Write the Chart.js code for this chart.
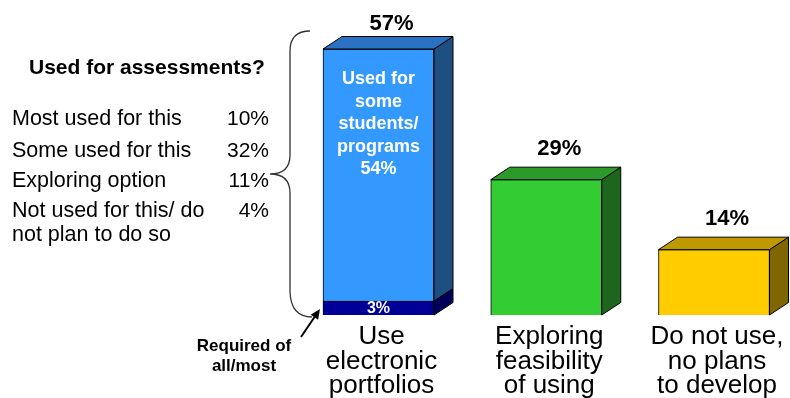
<!DOCTYPE html>
<html>
<head>
<meta charset="utf-8">
<script src="https://cdn.jsdelivr.net/npm/chart.js@4/dist/chart.umd.min.js"></script>
<style>
html,body{margin:0;padding:0;background:#fff;}
#wrap{width:790px;height:398px;position:relative;}
</style>
</head>
<body>
<div id="wrap"><canvas id="c" width="790" height="398"></canvas></div>
<script>
// ---- data ----
const categories = [["Use","electronic","portfolios"],["Exploring","feasibility","of using"],["Do not use,","no plans","to develop"]];
const requiredValues = [3, null, null];      // "Required of all/most"
const otherValues = [54, 29, 14];            // remainder of each bar
const insideLabel = ["Used for","some","students/","programs"];
const assessmentTitle = "Used for assessments?";
const assessmentCategories = [["Most used for this"],["Some used for this"],["Exploring option"],["Not used for this/ do","not plan to do so"]];
const assessmentValues = [10, 32, 11, 4];
const requiredLabel = ["Required of","all/most"];

const FONT = '"Liberation Sans", Arial, Helvetica, sans-serif';
const frontColors = ['#3399FF','#33CC33','#FFCC00'];
const topColors = ['#2C72C4','#2A9A2A','#BF9900'];
const sideColors = ['#1F4E80','#1E661E','#806600'];
const navyFront = '#000099', navySide = '#000058';
const DX = 19, DY = 12.5;

function txt(ctx, s, x, y, font, color, align){
  ctx.save();
  ctx.font = font; ctx.fillStyle = color; ctx.textAlign = align || 'left'; ctx.textBaseline = 'alphabetic';
  ctx.fillText(s, x, y);
  ctx.restore();
}

const box3d = {
  id: 'box3d',
  afterDatasetsDraw(chart){
    const ctx = chart.ctx;
    ctx.save();
    ctx.lineWidth = 1; ctx.strokeStyle = '#000'; ctx.lineJoin = 'miter';
    const metas = [chart.getDatasetMeta(0), chart.getDatasetMeta(1)];
    const n = categories.length;
    for (let i = 0; i < n; i++){
      metas.forEach((meta, di) => {
        const el = meta.data[i];
        if (!el) return;
        const v = chart.data.datasets[di].data[i];
        if (v === null || v === undefined || v === 0) return;
        const p = el.getProps(['x','y','base','width'], true);
        const xl = p.x - p.width/2, xr = p.x + p.width/2, yt = p.y, yb = p.base;
        ctx.beginPath();
        ctx.moveTo(xr, yt); ctx.lineTo(xr+DX, yt-DY); ctx.lineTo(xr+DX, yb-DY); ctx.lineTo(xr, yb); ctx.closePath();
        ctx.fillStyle = di === 0 ? navySide : sideColors[i];
        ctx.fill(); ctx.stroke();
        if (di === 1){
          ctx.beginPath();
          ctx.moveTo(xl, yt); ctx.lineTo(xl+DX, yt-DY); ctx.lineTo(xr+DX, yt-DY); ctx.lineTo(xr, yt); ctx.closePath();
          ctx.fillStyle = topColors[i];
          ctx.fill(); ctx.stroke();
        }
      });
    }
    ctx.restore();
  },
  afterDraw(chart){
    const ctx = chart.ctx;
    const xs = chart.scales.x, ys = chart.scales.y;
    for (let i = 0; i < categories.length; i++){
      const cx = xs.getPixelForValue(i);
      const total = (requiredValues[i] || 0) + otherValues[i];
      const topY = ys.getPixelForValue(total);
      txt(ctx, total + '%', cx + 13, Math.max(topY - 25, 30), 'bold 22px ' + FONT, '#000', 'center');
      categories[i].forEach((line, k) => {
        txt(ctx, line, cx + 3, 344 + k*24.5, '26px ' + FONT, '#000', 'center');
      });
    }
    const c0 = xs.getPixelForValue(0);
    insideLabel.forEach((line, k) => txt(ctx, line, c0, 84 + k*22.5, 'bold 18px ' + FONT, '#fff', 'center'));
    txt(ctx, otherValues[0] + '%', c0, 84 + 4*22.5, 'bold 18px ' + FONT, '#fff', 'center');
    const r0 = ys.getPixelForValue(requiredValues[0]);
    txt(ctx, requiredValues[0] + '%', c0, (r0 + ys.getPixelForValue(0))/2 + 4.5, 'bold 16px ' + FONT, '#fff', 'center');

    txt(ctx, assessmentTitle, 29, 74, 'bold 21px ' + FONT, '#000', 'left');
    const rowY = [125, 157, 187, 217];
    assessmentCategories.forEach((lines, k) => {
      lines.forEach((line, j) => txt(ctx, line, 12, rowY[k] + j*24, '21.5px ' + FONT, '#000', 'left'));
      txt(ctx, assessmentValues[k] + '%', 269, rowY[k], '21px ' + FONT, '#000', 'right');
    });

    ctx.save();
    ctx.strokeStyle = '#333'; ctx.lineWidth = 1.3;
    ctx.beginPath();
    ctx.moveTo(310, 31);
    ctx.quadraticCurveTo(290, 31, 290, 51);
    ctx.lineTo(290, 155);
    ctx.quadraticCurveTo(290, 174, 270, 174);
    ctx.quadraticCurveTo(290, 174, 290, 193);
    ctx.lineTo(290, 292);
    ctx.quadraticCurveTo(291, 317, 312, 317);
    ctx.stroke();
    ctx.restore();

    const ax = xs.getPixelForValue(0) - 55.5 - 3, ay = (r0 + ys.getPixelForValue(0))/2 + 1;
    const tx = 301, ty = 337;
    ctx.save();
    ctx.strokeStyle = '#000'; ctx.fillStyle = '#000'; ctx.lineWidth = 2;
    const ang = Math.atan2(ay - ty, ax - tx);
    ctx.beginPath(); ctx.moveTo(tx, ty); ctx.lineTo(ax - 7*Math.cos(ang), ay - 7*Math.sin(ang)); ctx.stroke();
    ctx.beginPath();
    ctx.moveTo(ax, ay);
    ctx.lineTo(ax - 10*Math.cos(ang) + 4.5*Math.sin(ang), ay - 10*Math.sin(ang) - 4.5*Math.cos(ang));
    ctx.lineTo(ax - 10*Math.cos(ang) - 4.5*Math.sin(ang), ay - 10*Math.sin(ang) + 4.5*Math.cos(ang));
    ctx.closePath(); ctx.fill();
    ctx.restore();
    txt(ctx, requiredLabel[0], 244, 351, 'bold 17px ' + FONT, '#000', 'center');
    txt(ctx, requiredLabel[1], 244, 371, 'bold 17px ' + FONT, '#000', 'center');
  }
};

new Chart(document.getElementById('c'), {
  type: 'bar',
  data: {
    labels: categories.map(c => c.join(' ')),
    datasets: [
      { label: 'Required of all/most', data: requiredValues, backgroundColor: navyFront, borderColor: '#000', borderWidth: 1, barThickness: 111, clip: false },
      { label: 'Other', data: otherValues, backgroundColor: frontColors, borderColor: '#000', borderWidth: 1, barThickness: 111, clip: false }
    ]
  },
  options: {
    responsive: false,
    devicePixelRatio: 1,
    animation: false,
    layout: { padding: { left: 378.5, right: 76, top: 35, bottom: 83 } },
    plugins: { legend: { display: false }, tooltip: { enabled: false } },
    scales: {
      x: { display: false, stacked: true, offset: false },
      y: { display: false, stacked: true, min: 0, max: 60 }
    }
  },
  plugins: [box3d]
});
</script>
</body>
</html>
